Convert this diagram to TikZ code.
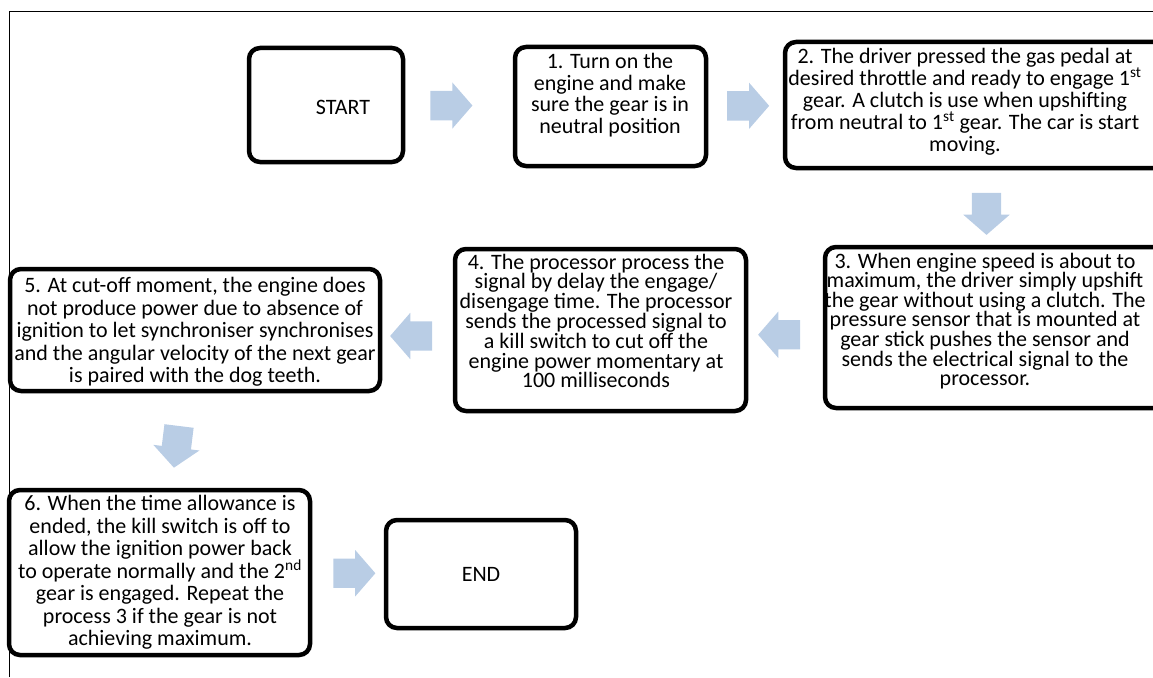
\documentclass[tikz,border=0pt]{standalone}
\usepackage{fontspec}
\setmainfont{Carlito}
\usetikzlibrary{shapes.arrows,calc,positioning}
\definecolor{flowblue}{RGB}{185,205,229}
\newcommand{\linesp}[1]{\fontsize{22}{#1}\selectfont}

\begin{document}
\begin{tikzpicture}[x=1pt, y=-1pt,
  stepbox/.style={draw, line width=4.5pt, rounded corners=11pt, inner sep=0pt},
  steptext/.style={align=center, inner sep=0pt, font=\linesp{21.7}},
  flow/.style={single arrow, fill=flowblue, draw=none, minimum height=42pt,
    inner xsep=0pt, inner ysep=14.5pt, single arrow head extend=8.5pt,
    single arrow tip angle=98}
]
  \useasboundingbox (0,0) rectangle (1153,677);
  % Frame
  \draw[line width=0.8pt] (9,677) -- (9,11) -- (1153,11);
  % Boxes
  \node[stepbox, minimum width=154, minimum height=114] (start) at (326,105) {};
  \node[stepbox, minimum width=191, minimum height=119] (s1) at (610.5,106.5) {};
  \node[stepbox, minimum width=383, minimum height=126] (s2) at (976.5,105) {};
  \node[stepbox, minimum width=343, minimum height=161] (s3) at (996.5,327.5) {};
  \node[stepbox, minimum width=291, minimum height=162] (s4) at (600.5,330) {};
  \node[stepbox, minimum width=370, minimum height=122] (s5) at (195,330) {};
  \node[stepbox, minimum width=301, minimum height=165] (s6) at (159.5,572.5) {};
  \node[stepbox, minimum width=190, minimum height=108] (end) at (481,574) {};
  % Texts
  \node[steptext] (startt) at (343,107) {START};
  \node[steptext] (s1t) at (610,95) {1. Turn on the\\engine and make\\sure the gear is in\\neutral position};
  \node[steptext, font=\linesp{21.9}] (s2t) at (965,101.5) {2. The driver pressed the gas pedal at\\desired throttle and ready to engage 1\textsuperscript{st}\\gear. A clutch is use when upshifting\\from neutral to 1\textsuperscript{st} gear. The car is start\\moving.};
  \node[steptext, font=\linesp{19.6}] (s3t) at (985,321) {3. When engine speed is about to\\maximum, the driver simply upshift\\the gear without using a clutch. The\\pressure sensor that is mounted at\\gear stick pushes the sensor and\\sends the electrical signal to the\\processor.};
  \node[steptext, font=\linesp{19.8}] (s4t) at (596,321) {4. The processor process the\\signal by delay the engage/\\disengage time. The processor\\sends the processed signal to\\a kill switch to cut off the\\engine power momentary at\\100 milliseconds};
  \node[steptext, font=\linesp{22.5}] (s5t) at (195,332) {5. At cut-off moment, the engine does\\not produce power due to absence of\\ignition to let synchroniser synchronises\\and the angular velocity of the next gear\\is paired with the dog teeth.};
  \node[steptext, font=\linesp{22.5}] (s6t) at (160,572.5) {6. When the time allowance is\\ended, the kill switch is off to\\allow the ignition power back\\to operate normally and the 2\textsuperscript{nd}\\gear is engaged. Repeat the\\process 3 if the gear is not\\achieving maximum.};
  \node[steptext] (endt) at (481,574) {END};
  % Block arrows
  \node[flow] (a0) at ($(start.east)!0.37!(s1.west)$) {};
  \node[flow] (a1) at ($(s1.east)!0.45!(s2.west)$) {};
  \node[flow, rotate=-90] (a2) at ($(s2.south)!0.5!(s3.north)$) {};
  \node[flow, rotate=180, yshift=6pt] (a3) at ($(s3.west)!0.5!(s4.east)$) {};
  \node[flow, rotate=180, yshift=6pt] (a4) at ($(s4.west)!0.5!(s5.east)$) {};
  \node[flow, rotate=-97] (a5) at ($(s5.south)!0.5!(s6.north)$) {};
  \node[flow] (a6) at ($(s6.east)!0.5!(end.west)$) {};
\end{tikzpicture}
\end{document}
